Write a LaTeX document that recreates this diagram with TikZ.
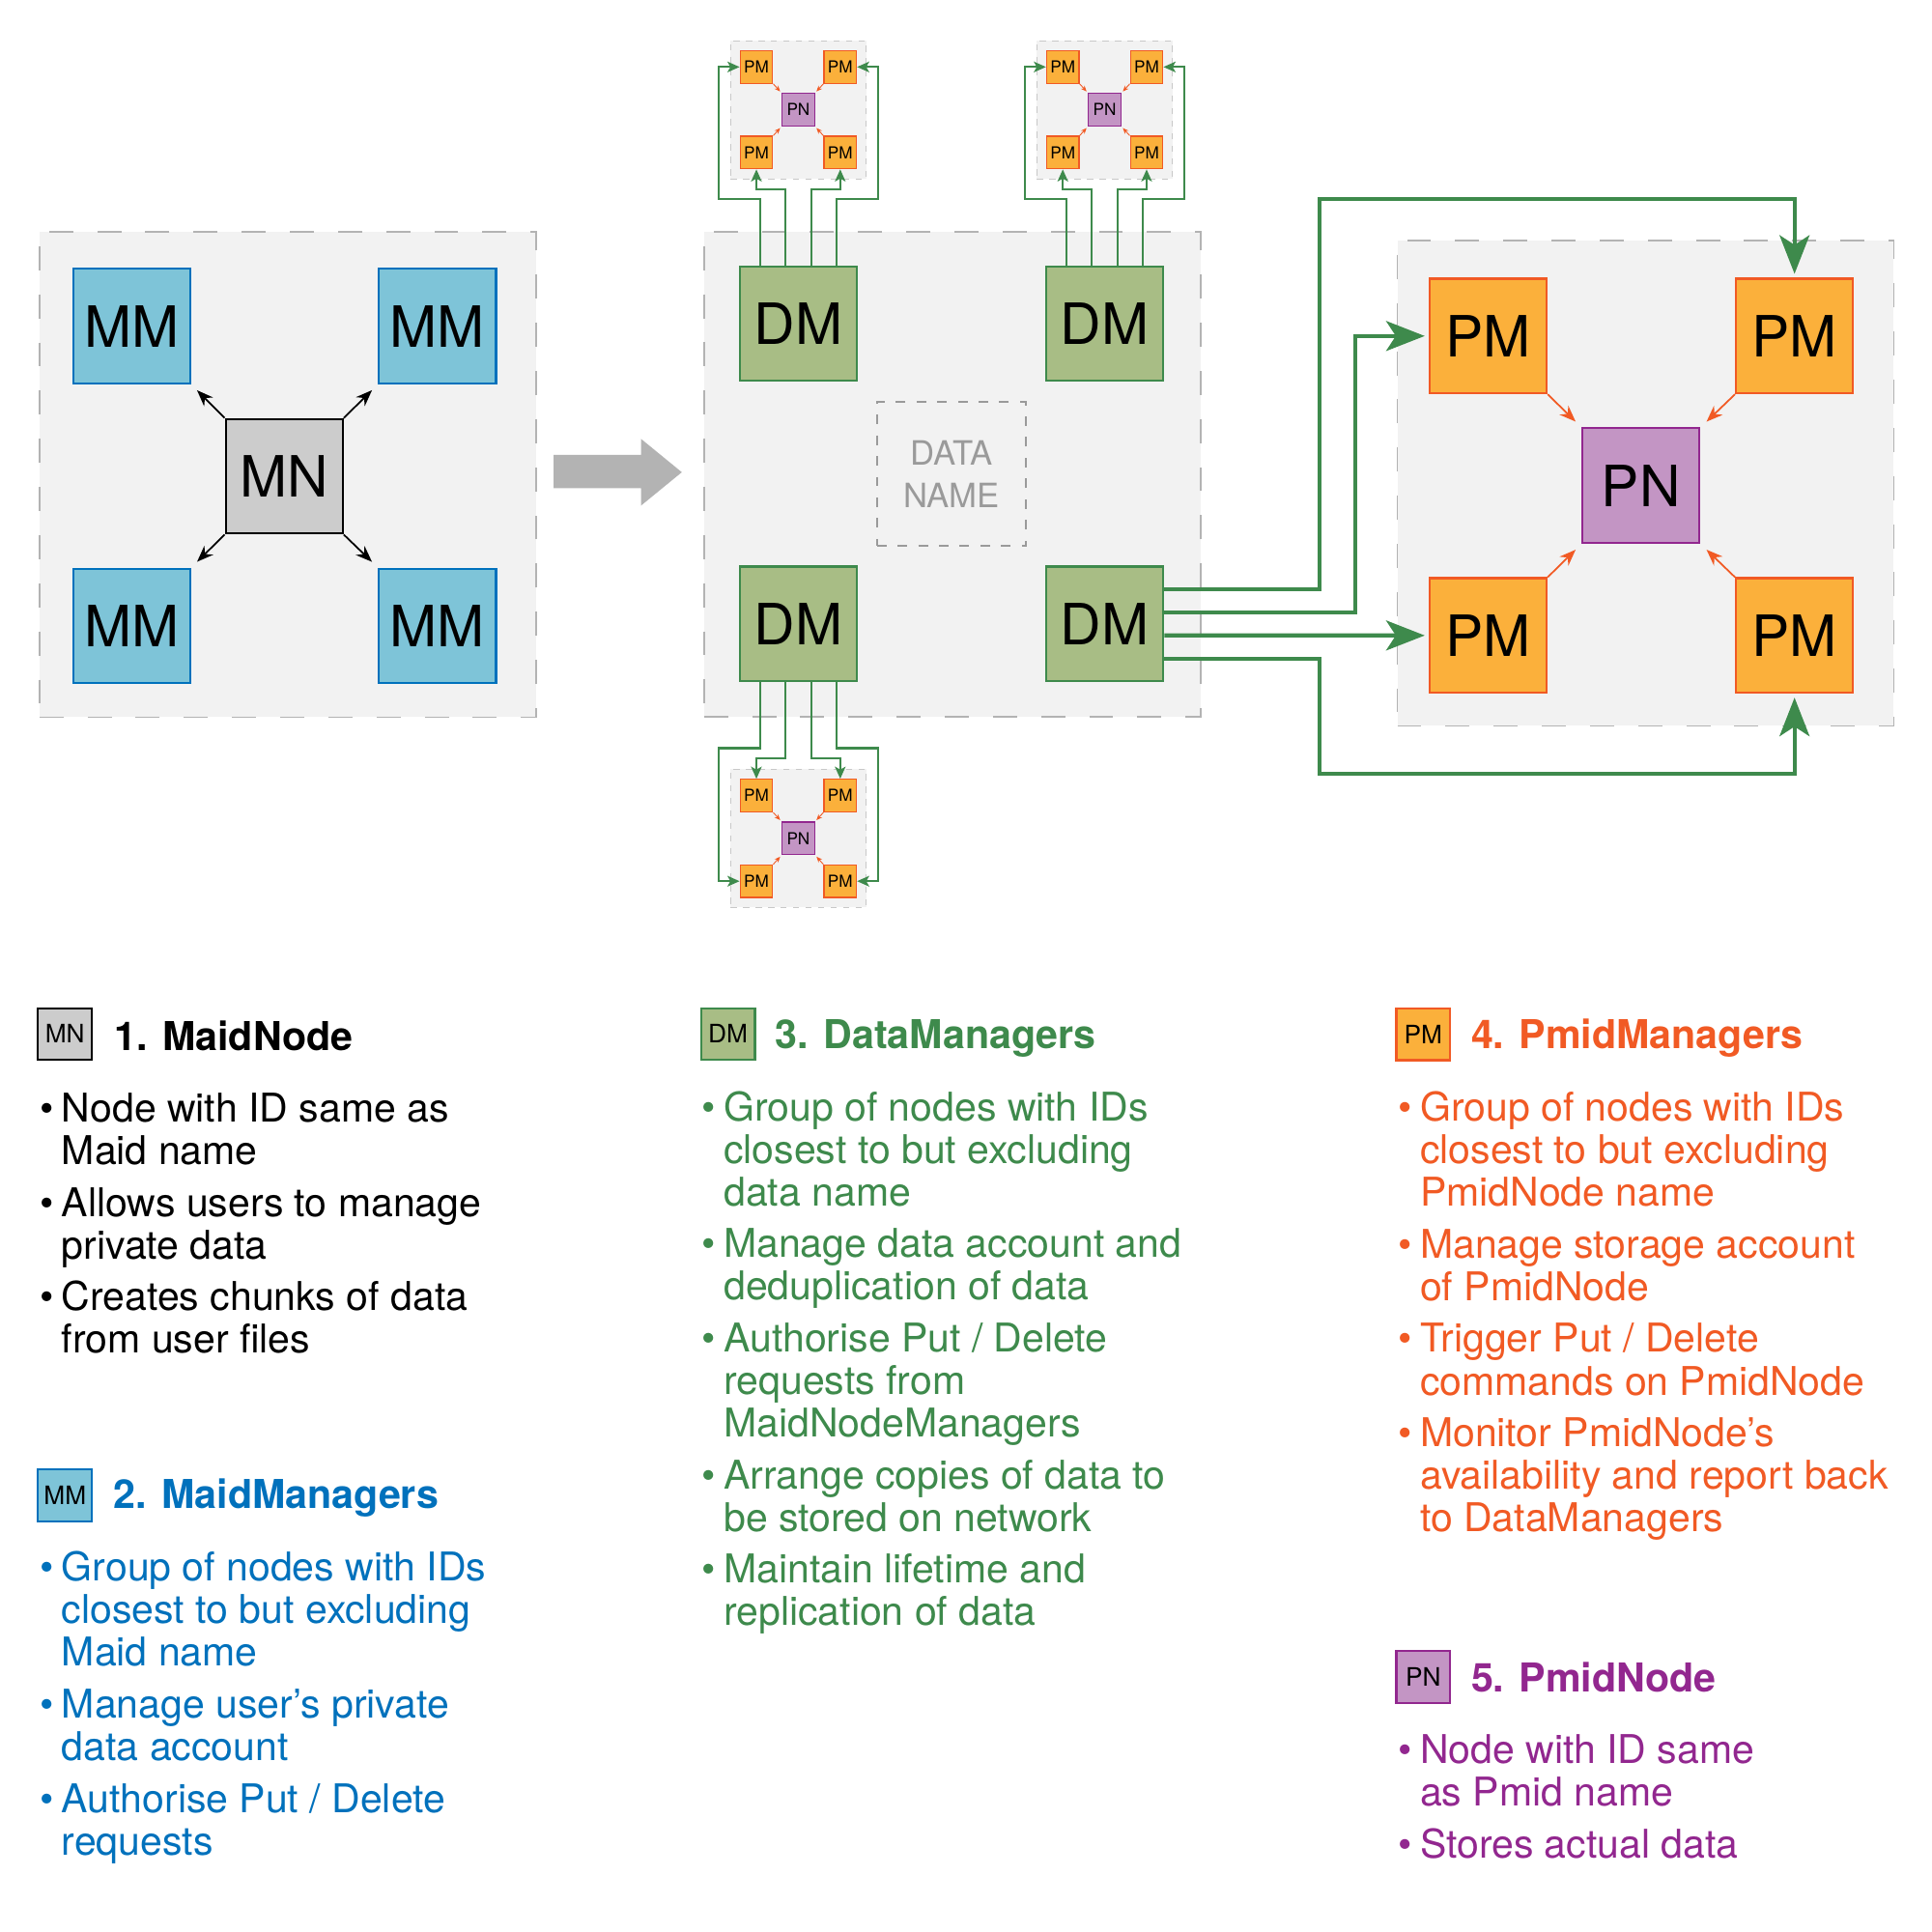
\documentclass[tikz,border=0pt]{standalone}
\usepackage{fontspec}
\setmainfont{TeX Gyre Heros}
\usetikzlibrary{arrows.meta}

\definecolor{panelfill}{HTML}{F2F2F2}
\definecolor{panelline}{HTML}{B3B3B3}
\definecolor{smallline}{HTML}{C8C8C8}
\definecolor{arrowgray}{HTML}{B3B3B3}
\definecolor{namegray}{HTML}{9A9A9A}
\definecolor{mnfill}{HTML}{CCCCCC}
\definecolor{mmfill}{HTML}{7EC4D8}
\definecolor{mmline}{HTML}{0071BC}
\definecolor{dmfill}{HTML}{A8BD85}
\definecolor{dmline}{HTML}{3E8A4C}
\definecolor{pmfill}{HTML}{FBB03B}
\definecolor{pmline}{HTML}{F15A24}
\definecolor{pnfill}{HTML}{C395C4}
\definecolor{pnline}{HTML}{92278F}

\newcommand{\itemdot}{\llap{\textbullet\hspace{0.08cm}}}
\newcommand{\itemgap}{0.096cm}

\begin{document}
\begin{tikzpicture}[x=0.0128cm,y=-0.0128cm,
    container/.style={draw=panelline,fill=panelfill,line width=0.5pt,dash pattern=on 0.25cm off 0.25cm,inner sep=0,minimum width=5.155cm,minimum height=5.04cm},
    smallpanel/.style={draw=smallline,fill=panelfill,line width=0.3pt,dash pattern=on 0.065cm off 0.065cm,inner sep=0,minimum width=1.41cm,minimum height=1.435cm},
    bigbox/.style={inner sep=0,line width=0.6pt,minimum width=1.216cm,minimum height=1.19cm,font=\fontsize{16.8}{18}\selectfont},
    mmbox/.style={bigbox,fill=mmfill,draw=mmline},
    mnbox/.style={bigbox,fill=mnfill,draw=black},
    dmbox/.style={bigbox,fill=dmfill,draw=dmline},
    pmbox/.style={bigbox,fill=pmfill,draw=pmline},
    pnbox/.style={bigbox,fill=pnfill,draw=pnline},
    smallbox/.style={inner sep=0,line width=0.35pt,minimum size=0.338cm,font=\fontsize{4.9}{5.2}\selectfont},
    spm/.style={smallbox,fill=pmfill,draw=pmline},
    spn/.style={smallbox,fill=pnfill,draw=pnline},
    namebox/.style={draw=namegray,line width=0.5pt,dash pattern=on 0.1cm off 0.115cm,inner sep=0,minimum width=1.549cm,minimum height=1.498cm,align=center,text=namegray,font=\fontsize{9.9}{12.6}\selectfont},
    icon/.style={inner sep=0,line width=0.6pt,minimum width=0.56cm,minimum height=0.537cm,font=\fontsize{7.5}{8}\selectfont},
    head/.style={anchor=base west,inner sep=0,font=\fontsize{11.75}{12.6}\selectfont\bfseries},
    list/.style={anchor=north west,inner sep=0,align=left,font=\fontsize{11.7}{12.565}\selectfont},
    mnarrow/.style={draw=black,line width=0.5pt,shorten >=0.085cm,-{Stealth[length=0.17cm,width=0.13cm]}},
    pnarrow/.style={draw=pmline,line width=0.5pt,shorten >=0.085cm,-{Stealth[length=0.17cm,width=0.13cm]}},
    spnarrow/.style={draw=pmline,line width=0.25pt,shorten >=0.02cm,-{Stealth[length=0.06cm,width=0.05cm]}},
    gbig/.style={draw=dmline,line width=1.2pt,shorten >=0.04cm,-{Stealth[length=0.4cm,width=0.31cm,inset=0.1cm]}},
    gsmall/.style={draw=dmline,line width=0.6pt,-{Stealth[length=0.125cm,width=0.11cm,inset=0.03cm]}}]

    % Page:
    \fill[white] (0,0) rectangle (1567,1567);
    \useasboundingbox (0,0) rectangle (1567,1567);

    % MaidNode and its MaidManagers:
    \node[container] (maidbox) at (233.3,384.8) {};
    \node[mnbox] (mn) at (230.5,386.3) {MN};
    \node[mmbox] (mm1) at (106.8,264.5) {MM};
    \node[mmbox] (mm2) at (354.8,264.5) {MM};
    \node[mmbox] (mm3) at (106.8,507.6) {MM};
    \node[mmbox] (mm4) at (354.8,507.6) {MM};
    \foreach \a/\m/\b in {north west/mm1/south east,north east/mm2/south west,south west/mm3/north east,south east/mm4/north west}
        \draw[mnarrow] (mn.\a) -- (\m.\b);

    % Step arrow:
    \fill[arrowgray] (449,369) -- (520,369) -- (520,356) -- (553,383) -- (520,410) -- (520,396) -- (449,396) -- cycle;

    % DataManagers round the data name:
    \node[container] (databox) at (772.3,384.7) {};
    \node[namebox] (dataname) at (771.7,384.3) {DATA\\NAME};
    \node[dmbox] (dm1) at (647.5,262.5) {DM};
    \node[dmbox] (dm2) at (896,262.5) {DM};
    \node[dmbox] (dm3) at (647.5,506) {DM};
    \node[dmbox] (dm4) at (896,506) {DM};

    % PmidManagers round the PmidNode:
    \node[container] (pmidbox) at (1334.7,391.9) {};
    \node[pnbox] (pn) at (1331,393.9) {PN};
    \node[pmbox] (pm1) at (1207,272.5) {PM};
    \node[pmbox] (pm2) at (1455.5,272.5) {PM};
    \node[pmbox] (pm3) at (1207,515.4) {PM};
    \node[pmbox] (pm4) at (1455.5,515.4) {PM};
    \foreach \m/\a/\b in {pm1/south east/north west,pm2/south west/north east,pm3/north east/south west,pm4/north west/south east}
        \draw[pnarrow] (\m.\a) -- (pn.\b);

    % Small copies next to the other DataManagers:
    \foreach \cl/\cx/\cy in {ta/647.5/89,tb/896/89,bc/647.5/680}{
        \node[smallpanel] (\cl) at (\cx,\cy) {};
        \node[spn] (\cl0) at (\cx,\cy) {PN};
        \node[spm] (\cl1) at (\cx-34,\cy-34.7) {PM};
        \node[spm] (\cl2) at (\cx+34,\cy-34.7) {PM};
        \node[spm] (\cl3) at (\cx-34,\cy+34.7) {PM};
        \node[spm] (\cl4) at (\cx+34,\cy+34.7) {PM};
        \draw[spnarrow] (\cl1.south east) -- (\cl0.north west);
        \draw[spnarrow] (\cl2.south west) -- (\cl0.north east);
        \draw[spnarrow] (\cl3.north east) -- (\cl0.south west);
        \draw[spnarrow] (\cl4.north west) -- (\cl0.south east);
    }

    % DataManagers to PmidManagers:
    \foreach \dm/\cl in {dm1/ta,dm2/tb}{
        \draw[gsmall] ([xshift=-0.397cm]\dm.north) -- ++(0,-53.5) -- ++(-33.6,0) |- (\cl1.west);
        \draw[gsmall] ([xshift=-0.132cm]\dm.north) -- ++(0,-61.8) -| (\cl3.south);
        \draw[gsmall] ([xshift=0.132cm]\dm.north) -- ++(0,-61.8) -| (\cl4.south);
        \draw[gsmall] ([xshift=0.397cm]\dm.north) -- ++(0,-53.5) -- ++(33.6,0) |- (\cl2.east);
    }
    \draw[gsmall] ([xshift=-0.397cm]dm3.south) -- ++(0,53.5) -- ++(-33.6,0) |- (bc3.west);
    \draw[gsmall] ([xshift=-0.132cm]dm3.south) -- ++(0,61.8) -| (bc1.north);
    \draw[gsmall] ([xshift=0.132cm]dm3.south) -- ++(0,61.8) -| (bc2.north);
    \draw[gsmall] ([xshift=0.397cm]dm3.south) -- ++(0,53.5) -- ++(33.6,0) |- (bc4.east);

    \draw[gbig] ([yshift=0.36cm]dm4.east) -- ++(126,0) |- ([yshift=0.82cm]pm2.north) -- (pm2.north);
    \draw[gbig] ([yshift=0.12cm]dm4.east) -- ++(155,0) |- (pm1.west);
    \draw[gbig] ([yshift=-0.12cm]dm4.east) -- (pm3.west);
    \draw[gbig] ([yshift=-0.36cm]dm4.east) -- ++(126,0) |- ([yshift=-0.83cm]pm4.south) -- (pm4.south);

    % Legend:
    \node[icon,fill=mnfill,draw=black] (mnkey) at (52.7,838.6) {MN};
    \node[head] (mnhead) at (92.5,851.8) {1. MaidNode};
    \node[list] (mntext) at (49.5,885.3) {\strut\itemdot Node with ID same as\\Maid name\\[\itemgap]%
        \itemdot Allows users to manage\\private data\\[\itemgap]%
        \itemdot Creates chunks of data\\from user files};

    \node[icon,fill=mmfill,draw=mmline] (mmkey) at (52.7,1212.7) {MM};
    \node[head,text=mmline] (mmhead) at (91.8,1223.5) {2. MaidManagers};
    \node[list,text=mmline] (mmtext) at (49.5,1257.8) {\strut\itemdot Group of nodes with IDs\\closest to but excluding\\Maid name\\[\itemgap]%
        \itemdot Manage user’s private\\data account\\[\itemgap]%
        \itemdot Authorise Put / Delete\\requests};

    \node[icon,fill=dmfill,draw=dmline] (dmkey) at (590.4,838.6) {DM};
    \node[head,text=dmline] (dmhead) at (628.5,850.5) {3. DataManagers};
    \node[list,text=dmline] (dmtext) at (586.5,884.3) {\strut\itemdot Group of nodes with IDs\\closest to but excluding\\data name\\[\itemgap]%
        \itemdot Manage data account and\\deduplication of data\\[\itemgap]%
        \itemdot Authorise Put / Delete\\requests from\\MaidNodeManagers\\[\itemgap]%
        \itemdot Arrange copies of data to\\be stored on network\\[\itemgap]%
        \itemdot Maintain lifetime and\\replication of data};

    \node[icon,fill=pmfill,draw=pmline] (pmkey) at (1154.4,838.9) {PM};
    \node[head,text=pmline] (pmhead) at (1192.8,850.5) {4. PmidManagers};
    \node[list,text=pmline] (pmtext) at (1151.3,884.7) {\strut\itemdot Group of nodes with IDs\\closest to but excluding\\PmidNode name\\[\itemgap]%
        \itemdot Manage storage account\\of PmidNode\\[\itemgap]%
        \itemdot Trigger Put / Delete\\commands on PmidNode\\[\itemgap]%
        \itemdot Monitor PmidNode’s\\availability and report back\\to DataManagers};

    \node[icon,fill=pnfill,draw=pnline] (pnkey) at (1154.4,1360) {PN};
    \node[head,text=pnline] (pnhead) at (1192.8,1372) {5. PmidNode};
    \node[list,text=pnline] (pntext) at (1151.3,1405.8) {\strut\itemdot Node with ID same\\as Pmid name\\[\itemgap]%
        \itemdot Stores actual data};
\end{tikzpicture}
\end{document}
